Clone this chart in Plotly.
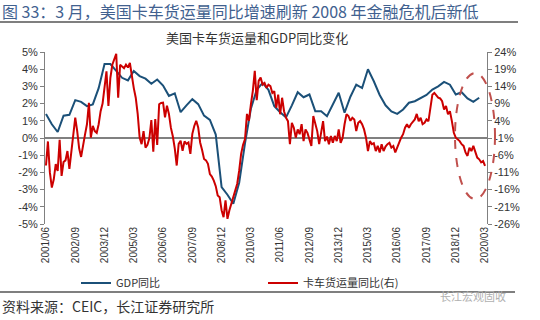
import plotly.graph_objects as go

# ---- data ----
months = []
y, mo = 2001, 6
while (y, mo) <= (2020, 3):
    months.append(f"{y}/{mo:02d}")
    mo += 1
    if mo > 12:
        mo = 1
        y += 1

tick_labels = ["2001/06", "2002/09", "2003/12", "2005/03", "2006/06", "2007/09",
               "2008/12", "2010/03", "2011/06", "2012/09", "2013/12", "2015/03",
               "2016/06", "2017/09", "2018/12", "2020/03"]

# GDP YoY (%), quarterly, 2001Q2 .. 2019Q4 (left axis)
gdp_months = months[0:223:3]
gdp_yoy = [1.4, 0.8, 0.35, 1.3, 1.35, 2.2, 2.1, 1.85, 1.95, 2.9,
           4.3, 4.3, 3.9, 3.5, 3.35, 3.9, 3.6, 3.45, 3.15, 3.4,
           3.05, 2.45, 2.6, 1.5, 1.9, 2.26, 1.97, 1.3, 1.05, 0.2,
           -2.86, -3.3, -3.82, -2.6, -0.3, 1.7, 2.8, 3.2, 2.8, 1.85,
           1.5, 1.2, 1.9, 2.66, 2.37, 2.53, 1.56, 1.56, 1.27, 1.95,
           2.63, 1.47, 2.4, 3.1, 2.9, 4.0, 3.3, 2.5, 1.9, 1.55,
           1.4, 1.66, 2.05, 2.14, 2.3, 2.5, 2.82, 3.0, 3.26, 3.1,
           2.53, 2.66, 2.3, 2.1, 2.34]

# Truck tonnage YoY (%), monthly, 2001/06 .. 2020/03 (right axis)
truck_yoy = [-9, -2, -11, -15.4, -13, -8.6, -10.6, -1.5, -12, -8,
             -7.5, -4.8, -10, -4.8, 0, 4.9, 1, -4, -6.5, -2.8,
             0, 3, 9.2, -0.9, 2.5, 1, 0.5, 3, 6.8, 9,
             14.5, 18.4, 8.3, 16.5, 20.3, 21.8, 23.5, 10.7, 20.3, 19.8,
             19.3, 20.3, 19.5, 20.8, 16.5, 13.5, 10.7, 6, -0.9, -2.8,
             1, -3.8, -3, -1, 4.2, -5, 4.5, -3, 8.8, 9.2,
             9.3, 5, 8.4, 6, 2, -0.5, -4, -9, -2.7, -1.8,
             -4.7, -2, -2.7, -2.3, -5.6, 0.2, 2.5, 4, 2.1, -2.3,
             -4.5, -7.1, -7.5, -8.5, -11.5, -12.2, -13.4, -15, -17.7, -18.2,
             -22, -24, -19.1, -24.5, -22, -20.1, -18, -16.2, -14.3, -10.5,
             -5.6, -3, -1.3, 6, 4, 8.8, 12.7, 18.5, 10, 15.6,
             16.6, 14.5, 15, 13.6, 14.5, 14.1, 12.1, 12.6, 7.8, 11.6,
             5.9, 10.7, 6.8, 4.9, 3.9, -2.8, 3.4, 2, -0.9, 1.5,
             0.1, 3, -1.9, 1.5, 0.5, -1.4, -3.3, 5.4, 3, 1,
             -2.8, 0.5, 3.9, -1.9, -0.6, -2.8, -0.4, -2.4, -0.4, -1.9,
             1.5, -2.4, -1, 3, 5.9, 5.4, 4, 4.9, 4.4, 1,
             3.4, 3.9, 3, 1.5, -0.9, -4.8, -1.9, -2.8, -2.5, -4.8,
             -3.3, -5.2, -2.8, -4.8, -3.5, -2.8, -2.4, -3.8, -3.3, -5.2,
             -3.8, -1.9, -0.9, 0.1, 2, 3, 2, 3, 3.9, 4.4,
             6, 3.9, 4.9, 3, 3.4, 4.4, 3.9, 7.5, 11.6, 12.1,
             11.2, 10.7, 10.5, 9.7, 7.3, 8.3, 5.9, 6.8, 3.9, 0.5,
             -0.9, -1.4, -1.9, -2.8, -3.3, -5.2, -6.2, -3.8, -4.8, -3.3,
             -5.2, -6.7, -7.2, -8.1, -7.7, -9.1]

left_ticks = [-5, -4, -3, -2, -1, 0, 1, 2, 3, 4, 5]
right_ticks = [-26, -21, -16, -11, -6, -1, 4, 9, 14, 19, 24]

BLUE = "#1b5078"
RED = "#cc0000"
AXIS = "#808080"
TXT = "#333333"
LAT = "Liberation Sans, Arial, Noto Sans CJK SC"
CJK = "Noto Sans CJK SC, Liberation Sans"

# ---- layout geometry (pixels) ----
W, H = 540, 320
L, R, T, B = 45, 53, 52, 96
PW, PH = W - L - R, H - T - B


def px(xp):
    return (xp - L) / PW


def py(yp):
    return (H - B - yp) / PH


fig = go.Figure()
fig.add_trace(go.Scatter(x=gdp_months, y=gdp_yoy, name="GDP同比", mode="lines",
                         line=dict(color=BLUE, width=2), yaxis="y"))
fig.add_trace(go.Scatter(x=months, y=truck_yoy, name="卡车货运量同比(右)", mode="lines",
                         line=dict(color=RED, width=2), yaxis="y2"))

fig.update_layout(
    width=W, height=H,
    margin=dict(l=L, r=R, t=T, b=B, pad=0),
    paper_bgcolor="white", plot_bgcolor="white",
    font=dict(family=LAT, size=11, color=TXT),
    xaxis=dict(type="category", categoryorder="array", categoryarray=months,
               range=[-0.5, len(months)], tickmode="array", tickvals=tick_labels,
               ticktext=tick_labels, tickangle=-90, showgrid=False, showline=False,
               zeroline=False, ticks="", tickfont=dict(size=10, color=TXT, family=LAT)),
    yaxis=dict(range=[-5, 5], tickmode="array", tickvals=left_ticks,
               ticktext=[f"{v}%" for v in left_ticks],
               showline=True, linecolor=AXIS, linewidth=1, ticks="outside", ticklen=4,
               tickcolor=AXIS, showgrid=False, zeroline=True, zerolinecolor=AXIS,
               zerolinewidth=2, tickfont=dict(size=11, color=TXT, family=LAT)),
    yaxis2=dict(range=[-26, 24], overlaying="y", side="right", tickmode="array",
                tickvals=right_ticks, ticktext=[f"{v}%" for v in right_ticks],
                showline=True, linecolor=AXIS,
                linewidth=1, ticks="outside", ticklen=4, tickcolor=AXIS, showgrid=False,
                zeroline=False, tickfont=dict(size=11, color=TXT, family=LAT)),
    legend=dict(orientation="h", x=px(76), xanchor="left", y=py(283), yanchor="middle",
                font=dict(size=11, color=TXT, family=CJK), entrywidth=142,
                bgcolor="rgba(0,0,0,0)"),
    showlegend=True,
)

fig.add_annotation(text="图 33：3 月，美国卡车货运量同比增速刷新 2008 年金融危机后新低",
                   xref="paper", yref="paper", x=px(0), y=py(11), xanchor="left",
                   yanchor="middle", showarrow=False,
                   font=dict(size=16, color="#41618f", family=CJK))
fig.add_annotation(text="美国卡车货运量和GDP同比变化", xref="paper", yref="paper",
                   x=px(257), y=py(37), xanchor="center", yanchor="middle", showarrow=False,
                   font=dict(size=13, color=TXT, family=CJK))
fig.add_annotation(text="资料来源：CEIC，长江证券研究所", xref="paper", yref="paper",
                   x=px(0), y=py(306), xanchor="left", yanchor="middle", showarrow=False,
                   font=dict(size=14, color=TXT, family=CJK))
fig.add_annotation(text="长江宏观固收", xref="paper", yref="paper",
                   x=px(508), y=py(296), xanchor="right", yanchor="middle", showarrow=False,
                   font=dict(size=11, color="#b0b0b0", family=CJK))

fig.add_shape(type="line", xref="paper", yref="paper", x0=px(0), x1=px(518),
              y0=py(22), y1=py(22), line=dict(color="#555555", width=1.5))
fig.add_shape(type="line", xref="paper", yref="paper", x0=px(0), x1=px(515),
              y0=py(292), y1=py(292), line=dict(color="#555555", width=1.5))
fig.add_shape(type="circle", xref="paper", yref="paper", x0=px(455), x1=px(495),
              y0=py(199), y1=py(73), line=dict(color="#c0504d", width=2, dash="dash"))

fig.write_html("out.html")
